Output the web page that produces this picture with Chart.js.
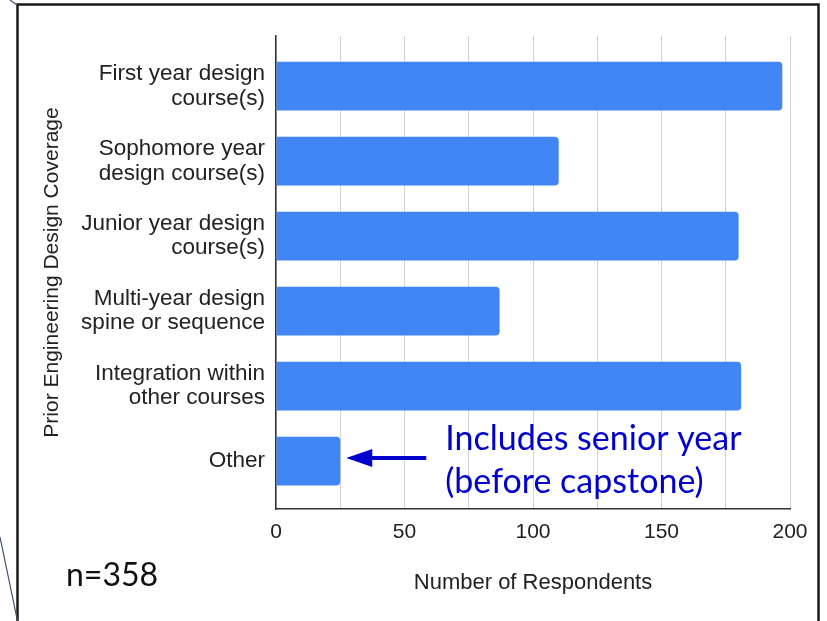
<!DOCTYPE html>
<html>
<head>
<meta charset="utf-8">
<title>Prior Engineering Design Coverage</title>
<script src="https://cdn.jsdelivr.net/npm/chart.js@4.4.1/dist/chart.umd.min.js"></script>
<style>
  html, body { margin: 0; padding: 0; background: #fff; }
  #wrap { width: 827px; height: 621px; }
</style>
</head>
<body>
<div id="wrap"><canvas id="coverage" width="827" height="621"></canvas></div>
<script>
const categories = [
    ['First year design', 'course(s)'],
    ['Sophomore year', 'design course(s)'],
    ['Junior year design', 'course(s)'],
    ['Multi-year design', 'spine or sequence'],
    ['Integration within', 'other courses'],
    'Other'
];
const respondents = [197, 110, 180, 87, 181, 25];
const xTickLabels = [0, 50, 100, 150, 200];
const sampleNote = 'n=358';
const otherNote = ['Includes senior year', '(before capstone)'];

const barBlue = '#4285f4';
const noteBlue = '#0000cc';
const textGrey = '#222222';

Chart.defaults.font.family = '"Liberation Sans", Arial, sans-serif';

// frame of the slide, the n= note and the arrow pointing at "Other"
const decorations = {
    id: 'decorations',
    afterDraw(chart) {
        const ctx = chart.ctx;
        const xs = chart.scales.x, ys = chart.scales.y;
        ctx.save();
        ctx.strokeStyle = '#1a1a1a';
        ctx.lineWidth = 2.5;
        ctx.beginPath();
        ctx.moveTo(17.5, 640);
        ctx.lineTo(17.5, 4.5);
        ctx.lineTo(818.5, 4.5);
        ctx.lineTo(818.5, 640);
        ctx.stroke();

        ctx.strokeStyle = '#44546a';
        ctx.lineWidth = 1.2;
        ctx.beginPath();
        ctx.moveTo(10, 0); ctx.lineTo(17, 5);
        ctx.moveTo(0, 537); ctx.lineTo(17.5, 621);
        ctx.stroke();

        ctx.fillStyle = '#111';
        ctx.font = '32px Lato';
        ctx.textBaseline = 'alphabetic';
        ctx.fillText(sampleNote, 66, 586);

        const last = respondents.length - 1;
        const tipX = xs.getPixelForValue(respondents[last]) + 6;
        const y = ys.getPixelForValue(last) - 3;
        ctx.fillStyle = noteBlue;
        ctx.strokeStyle = noteBlue;
        ctx.lineWidth = 4;
        ctx.beginPath();
        ctx.moveTo(tipX + 22, y);
        ctx.lineTo(tipX + 80, y);
        ctx.stroke();
        ctx.beginPath();
        ctx.moveTo(tipX, y);
        ctx.lineTo(tipX + 26, y - 9);
        ctx.lineTo(tipX + 26, y + 9);
        ctx.closePath();
        ctx.fill();

        ctx.font = '34px Lato';
        ctx.fillText(otherNote[0], tipX + 99, y - 8);
        ctx.fillText(otherNote[1], tipX + 99, y + 35);
        ctx.restore();
    }
};

new Chart(document.getElementById('coverage'), {
    type: 'bar',
    data: {
        labels: categories,
        datasets: [{
            data: respondents.map((v, i) => ({ x: v, y: i })),
            backgroundColor: barBlue,
            borderRadius: 4,
            barPercentage: 0.65,
            categoryPercentage: 1
        }]
    },
    options: {
        indexAxis: 'y',
        responsive: false,
        animation: false,
        layout: { padding: { top: 36, right: 37, left: 0, bottom: 0 } },
        plugins: { legend: { display: false }, tooltip: { enabled: false } },
        scales: {
            x: {
                type: 'linear',
                position: 'bottom',
                min: 0,
                max: 200,
                ticks: {
                    stepSize: 25,
                    autoSkip: false,
                    maxRotation: 0,
                    color: textGrey,
                    font: { size: 21 },
                    padding: 11,
                    callback: v => xTickLabels.includes(v) ? v : ''
                },
                grid: { color: '#d3d3d3', lineWidth: 1, drawTicks: false },
                border: { color: '#333', width: 1.5 },
                title: {
                    display: true,
                    text: 'Number of Respondents',
                    color: textGrey,
                    font: { size: 22 },
                    padding: { top: 0, bottom: 25 }
                },
                afterFit: s => { s.height = 112; }
            },
            y: {
                type: 'linear',
                position: 'left',
                reverse: true,
                offset: false,
                min: -0.67,
                max: 5.64,
                afterBuildTicks: s => { s.ticks = categories.map((c, i) => ({ value: i })); },
                ticks: {
                    autoSkip: false,
                    color: textGrey,
                    font: { size: 22.5, lineHeight: 1.08 },
                    padding: 11,
                    callback: v => categories[v]
                },
                grid: { display: false, drawTicks: false, offset: false },
                border: { display: true, color: '#333', width: 1.5 },
                title: {
                    display: true,
                    text: 'Prior Engineering Design Coverage',
                    color: textGrey,
                    font: { size: 21 },
                    padding: { top: 40, bottom: 0 }
                },
                afterFit: s => { s.width = 276; }
            }
        }
    },
    plugins: [decorations]
});
</script>
</body>
</html>
